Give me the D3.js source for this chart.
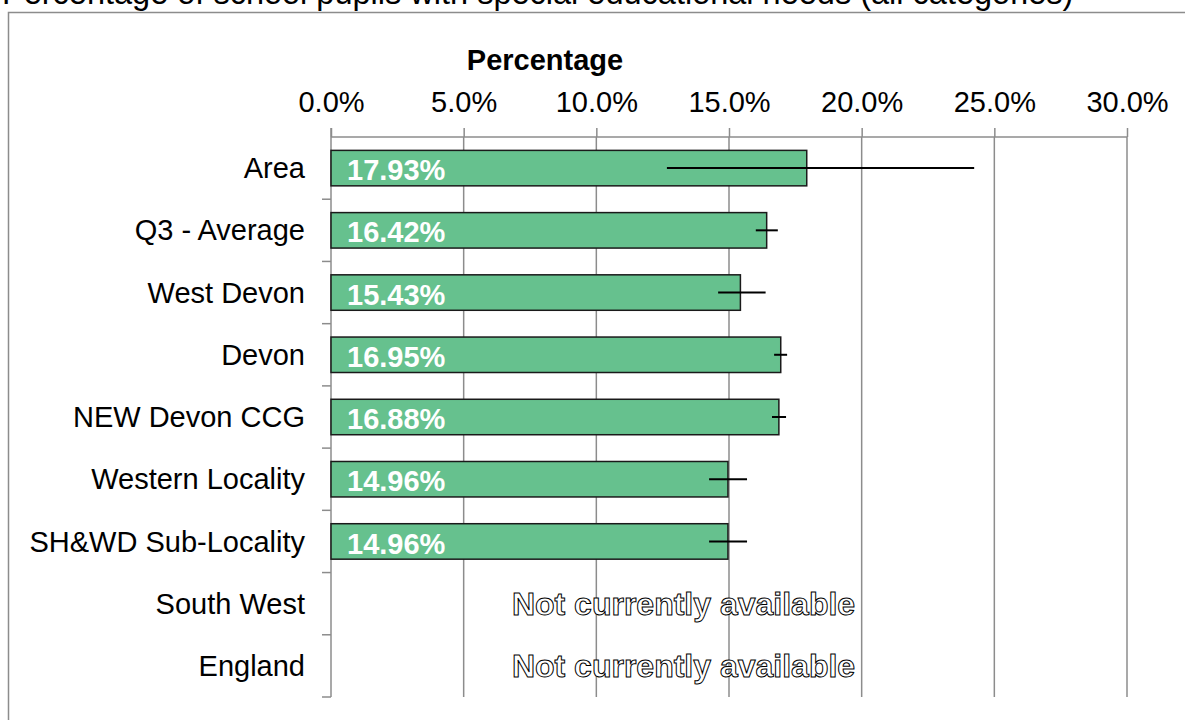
<!DOCTYPE html>
<html>
<head>
<meta charset="utf-8">
<script src="https://cdn.jsdelivr.net/npm/d3@7"></script>
<style>
  html, body { margin: 0; padding: 0; background: #fff; }
  svg { display: block; font-family: "Liberation Sans", Arial, sans-serif; }
</style>
</head>
<body>
<svg id="chart" width="1185" height="720"></svg>
<script>
const titleText = "Percentage of school pupils with special educational needs (all categories)";
const axisTitle = "Percentage";
const categories = ["Area", "Q3 - Average", "West Devon", "Devon", "NEW Devon CCG", "Western Locality", "SH&WD Sub-Locality", "South West", "England"];
const values = [17.93, 16.42, 15.43, 16.95, 16.88, 14.96, 14.96, null, null];
const lowerCI = [12.66, 16.01, 14.59, 16.70, 16.62, 14.25, 14.25, null, null];
const upperCI = [24.24, 16.84, 16.38, 17.19, 17.15, 15.68, 15.68, null, null];
const xTicks = [0, 5, 10, 15, 20, 25, 30];
const missingText = "Not currently available";

(function () {
const svg = d3.select("#chart");
const W = 1185, H = 720;
const pLeft = 331, pRight = 1127, pTop = 137, pBottom = 697;
const FS = 29;

// frame
svg.append("path")
  .attr("d", `M8.5,${H} V12.5 H${W}`)
  .attr("fill", "none").attr("stroke", "#8c8c8c").attr("stroke-width", 1.5);

svg.append("text")
  .attr("x", 2).attr("y", 4)
  .attr("font-size", 32.5).attr("fill", "#000")
  .text(titleText);

const x = d3.scaleLinear().domain([0, 30]).range([pLeft, pRight]);
const y = d3.scaleBand().domain(categories).range([pTop, pBottom]).paddingInner(0.43).paddingOuter(0.215);
const yb = d3.scaleBand().domain(categories).range([pTop, pBottom]);

// gridlines
svg.append("g").selectAll("line").data(xTicks.slice(1)).join("line")
  .attr("x1", d => x(d)).attr("x2", d => x(d))
  .attr("y1", pTop).attr("y2", pBottom)
  .attr("stroke", "#8c8c8c").attr("stroke-width", 1.5);

// top axis
const xAxis = d3.axisTop(x).tickValues(xTicks).tickSize(9).tickPadding(16)
  .tickFormat(d => d.toFixed(1) + "%");
const gx = svg.append("g").attr("transform", `translate(0,${pTop})`).call(xAxis);
gx.select(".domain").attr("stroke", "#8c8c8c").attr("stroke-width", 1.5).attr("d", `M${pLeft},0H${pRight}`);
gx.selectAll(".tick line").attr("stroke", "#8c8c8c").attr("stroke-width", 1.5);
gx.selectAll(".tick text").attr("font-size", FS).attr("fill", "#000")
  .attr("font-family", "Liberation Sans, Arial, sans-serif");

svg.append("text")
  .attr("x", 545).attr("y", 70).attr("text-anchor", "middle")
  .attr("font-size", FS).attr("font-weight", "bold").attr("fill", "#000")
  .text(axisTitle);

// y axis line with boundary ticks
const boundaries = categories.map(c => yb(c)).concat([pBottom]);
svg.append("line").attr("x1", pLeft).attr("x2", pLeft).attr("y1", pTop - 9).attr("y2", pBottom)
  .attr("stroke", "#8c8c8c").attr("stroke-width", 1.5);
svg.append("g").selectAll("line").data(boundaries.slice(1)).join("line")
  .attr("x1", pLeft - 9).attr("x2", pLeft).attr("y1", d => d).attr("y2", d => d)
  .attr("stroke", "#8c8c8c").attr("stroke-width", 1.5);

// category labels
svg.append("g").selectAll("text").data(categories).join("text")
  .attr("x", 305).attr("y", d => yb(d) + yb.bandwidth() / 2)
  .attr("dy", "0.35em").attr("text-anchor", "end")
  .attr("font-size", FS).attr("fill", "#000")
  .text(d => d);

const rows = categories.map((c, i) => ({ c, v: values[i], lo: lowerCI[i], hi: upperCI[i] }));
const avail = rows.filter(r => r.v !== null);

// bars
svg.append("g").selectAll("rect").data(avail).join("rect")
  .attr("x", x(0)).attr("y", d => y(d.c))
  .attr("width", d => x(d.v) - x(0)).attr("height", y.bandwidth())
  .attr("fill", "#66C18E").attr("stroke", "#1a1a1a").attr("stroke-width", 1.5);

// error bars
svg.append("g").selectAll("line").data(avail).join("line")
  .attr("x1", d => x(d.lo)).attr("x2", d => x(d.hi))
  .attr("y1", d => yb(d.c) + yb.bandwidth() / 2).attr("y2", d => yb(d.c) + yb.bandwidth() / 2)
  .attr("stroke", "#000").attr("stroke-width", 2);

// value labels
svg.append("g").selectAll("text").data(avail).join("text")
  .attr("x", x(0) + 16).attr("y", d => yb(d.c) + yb.bandwidth() / 2 + 2)
  .attr("dy", "0.35em")
  .attr("font-size", FS).attr("font-weight", "bold").attr("fill", "#fff")
  .text(d => d.v.toFixed(2) + "%");

// not available
svg.append("g").selectAll("text").data(rows.filter(r => r.v === null)).join("text")
  .attr("x", 683.5).attr("y", d => yb(d.c) + yb.bandwidth() / 2)
  .attr("dy", "0.35em").attr("text-anchor", "middle")
  .attr("font-size", 32).attr("font-weight", "bold")
  .attr("fill", "#fff").attr("stroke", "#000").attr("stroke-width", 1)
  .text(missingText);
})();
</script>
</body>
</html>
